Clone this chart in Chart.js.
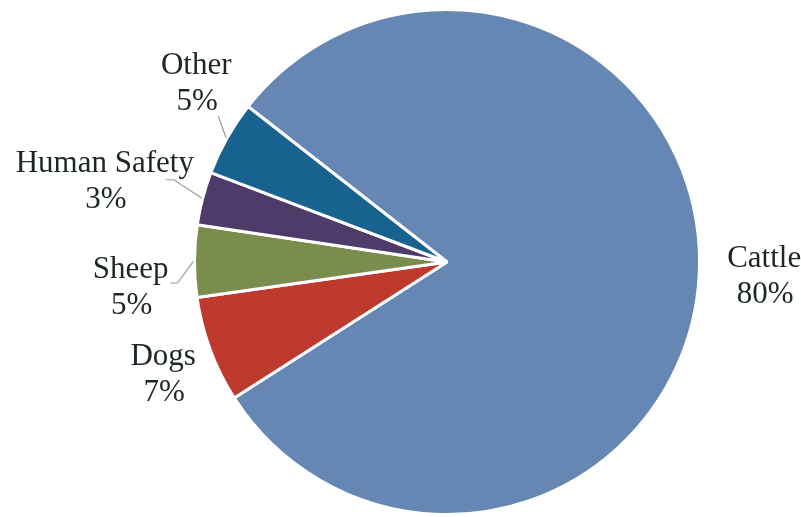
<!DOCTYPE html>
<html>
<head>
<meta charset="utf-8">
<script src="https://cdn.jsdelivr.net/npm/chart.js@4/dist/chart.umd.min.js"></script>
<style>
  html, body { margin: 0; padding: 0; background: #ffffff; }
  #wrap { width: 801px; height: 517px; position: relative; }
</style>
</head>
<body>
<div id="wrap"><canvas id="c" width="801" height="517"></canvas></div>
<script>
const categories = ["Cattle", "Dogs", "Sheep", "Human Safety", "Other"];
const shares = [80.4, 6.8, 4.6, 3.4, 4.8];
const percentLabels = ["80%", "7%", "5%", "3%", "5%"];

const sliceColors = ["#6686b4", "#bf3a2e", "#7b8d4d", "#4e3b69", "#17628f"];
// label placement: extra radial distance beyond the pie edge and angle nudge (deg)
const labelGap = [65, 53, 65, 99, 55];
const labelNudge = [0, -1.4, -4.9, -1.4, 6];
// leader lines (only for some slices): offset of the label-side end from label centre
const leaders = [null, null,
  { dx: 47, dy: -5, hx: 40 },
  { dx: 69, dy: -2, hx: 61 },
  { dx: 22, dy: 32, hx: 22 }];

const labelPlugin = {
  id: 'outsideLabels',
  afterDatasetsDraw(chart) {
    const ctx = chart.ctx;
    const meta = chart.getDatasetMeta(0);
    ctx.save();
    ctx.font = '31px "Liberation Serif", "Times New Roman", serif';
    ctx.textAlign = 'center';
    ctx.textBaseline = 'middle';
    meta.data.forEach((arc, i) => {
      const p = arc.getProps(['x', 'y', 'startAngle', 'endAngle', 'outerRadius'], true);
      const mid = (p.startAngle + p.endAngle) / 2;
      const a = mid + labelNudge[i] * Math.PI / 180;
      const d = p.outerRadius + labelGap[i];
      const lx = p.x + Math.cos(a) * d;
      const ly = p.y + Math.sin(a) * d;
      const L = leaders[i];
      if (L) {
        const ex = p.x + Math.cos(mid) * (p.outerRadius + 1);
        const ey = p.y + Math.sin(mid) * (p.outerRadius + 1);
        ctx.strokeStyle = '#9a9a9a';
        ctx.lineWidth = 1.2;
        ctx.beginPath();
        ctx.moveTo(ex, ey);
        ctx.lineTo(lx + L.dx, ly + L.dy);
        if (L.hx !== L.dx) ctx.lineTo(lx + L.hx, ly + L.dy);
        ctx.stroke();
      }
      ctx.fillStyle = '#1b2820';
      ctx.fillText(categories[i], lx, ly - 18);
      ctx.fillText(percentLabels[i], lx + 1, ly + 18);
    });
    ctx.restore();
  }
};

new Chart(document.getElementById('c'), {
  type: 'pie',
  data: {
    labels: categories,
    datasets: [{
      data: shares,
      backgroundColor: sliceColors,
      borderColor: '#ffffff',
      borderWidth: 3
    }]
  },
  options: {
    responsive: false,
    animation: false,
    rotation: -52,
    layout: { padding: { left: 193, right: 100, top: 8, bottom: 1 } },
    plugins: {
      legend: { display: false },
      tooltip: { enabled: false }
    }
  },
  plugins: [labelPlugin]
});
</script>
</body>
</html>
